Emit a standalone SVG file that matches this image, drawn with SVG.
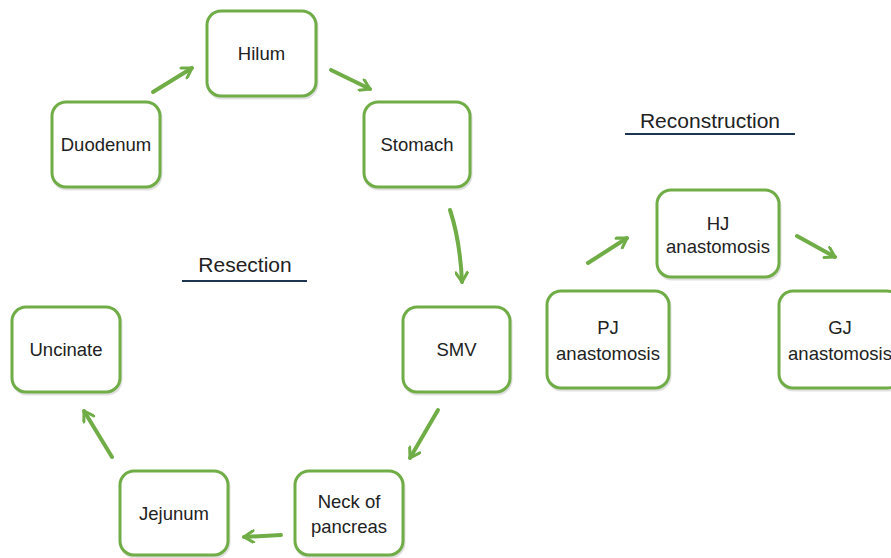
<svg xmlns="http://www.w3.org/2000/svg" width="891" height="558" viewBox="0 0 891 558">
<defs>
<style>
.box{fill:#fff;stroke:#70ad47;stroke-width:3}
.sh{fill:none;stroke:#000;stroke-opacity:0.12;stroke-width:3}
.t{font-family:"Liberation Sans",Arial,sans-serif;font-size:18.5px;fill:#222;text-anchor:middle}
.h{font-size:21px}
.c{fill:none;stroke:#70ad47;stroke-width:4;stroke-linecap:round}
.ul{stroke:#1d3550;stroke-width:2}
</style>
<marker id="ah" viewBox="0 0 12 12" refX="10" refY="6" markerWidth="14" markerHeight="14" markerUnits="userSpaceOnUse" orient="auto">
<path d="M2,1 L10,6 L2,11" fill="none" stroke="#70ad47" stroke-width="2.6" stroke-linecap="round" stroke-linejoin="round"/>
</marker>
</defs>
<rect width="891" height="558" fill="#fff"/>
<g id="hilum"><rect class="sh" x="208" y="13" width="109" height="85" rx="14"/><rect class="box" x="207" y="11" width="109" height="85" rx="14"/><text class="t" x="261.5" y="60">Hilum</text></g>
<g id="duodenum"><rect class="sh" x="53" y="104" width="108" height="85" rx="14"/><rect class="box" x="52" y="102" width="108" height="85" rx="14"/><text class="t" x="106" y="151">Duodenum</text></g>
<g id="stomach"><rect class="sh" x="365" y="104" width="106" height="85" rx="14"/><rect class="box" x="364" y="102" width="106" height="85" rx="14"/><text class="t" x="417" y="151">Stomach</text></g>
<g id="smv"><rect class="sh" x="404" y="309" width="107" height="85" rx="14"/><rect class="box" x="403" y="307" width="107" height="85" rx="14"/><text class="t" x="456.5" y="356">SMV</text></g>
<g id="uncinate"><rect class="sh" x="13" y="309" width="108" height="85" rx="14"/><rect class="box" x="12" y="307" width="108" height="85" rx="14"/><text class="t" x="66" y="356">Uncinate</text></g>
<g id="jejunum"><rect class="sh" x="121" y="473" width="108" height="84" rx="14"/><rect class="box" x="120" y="471" width="108" height="84" rx="14"/><text class="t" x="174" y="520">Jejunum</text></g>
<g id="neck"><rect class="sh" x="296" y="473" width="108" height="84" rx="14"/><rect class="box" x="295" y="471" width="108" height="84" rx="14"/><text class="t" x="349" y="508">Neck of</text><text class="t" x="349" y="533">pancreas</text></g>
<g id="hj"><rect class="sh" x="658" y="192" width="122" height="87" rx="14"/><rect class="box" x="657" y="190" width="122" height="87" rx="14"/><text class="t" x="718" y="230">HJ</text><text class="t" x="718" y="253">anastomosis</text></g>
<g id="pj"><rect class="sh" x="548" y="293" width="122" height="97" rx="14"/><rect class="box" x="547" y="291" width="122" height="97" rx="14"/><text class="t" x="608" y="334">PJ</text><text class="t" x="608" y="360">anastomosis</text></g>
<g id="gj"><rect class="sh" x="780" y="293" width="122" height="97" rx="14"/><rect class="box" x="779" y="291" width="122" height="97" rx="14"/><text class="t" x="840" y="334">GJ</text><text class="t" x="840" y="360">anastomosis</text></g>
<g id="titles">
<text class="t h" x="710" y="128">Reconstruction</text><line class="ul" x1="625" y1="134" x2="795" y2="134"/>
<text class="t h" x="245" y="272">Resection</text><line class="ul" x1="182" y1="281" x2="307" y2="281"/>
</g>
<g id="connectors">
<path class="c" d="M153,92 L192,68" marker-end="url(#ah)"/>
<path class="c" d="M331,70 L370,89" marker-end="url(#ah)"/>
<path class="c" d="M450,210 Q460,240 462,282" marker-end="url(#ah)"/>
<path class="c" d="M438,410 L410,458" marker-end="url(#ah)"/>
<path class="c" d="M281,535 L244,537" marker-end="url(#ah)"/>
<path class="c" d="M112,457 L84,411" marker-end="url(#ah)"/>
<path class="c" d="M588,263 L627,238" marker-end="url(#ah)"/>
<path class="c" d="M797,236 L835,257" marker-end="url(#ah)"/>
</g>
</svg>
